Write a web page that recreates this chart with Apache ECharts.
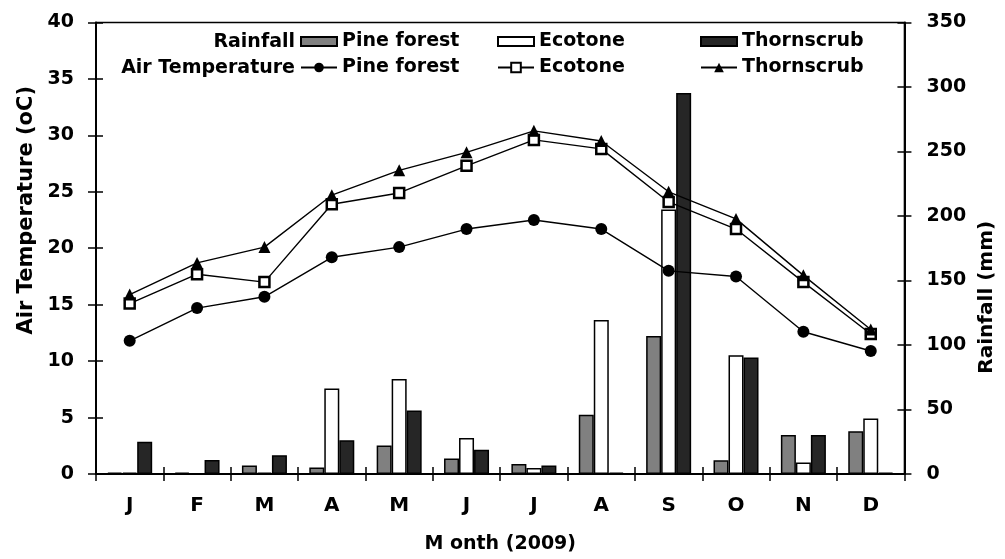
<!DOCTYPE html>
<html><head><meta charset="utf-8">
<script src="https://cdn.jsdelivr.net/npm/echarts@6/dist/echarts.min.js"></script>
<style>html,body{margin:0;padding:0;background:#fff}#c{width:1005px;height:559px}</style>
</head><body><div id="c"></div>
<script>
const months = ['J','F','M','A','M','J','J','A','S','O','N','D'];
const rainPine  = [1, 1, 6.5, 5, 22, 12, 7.7, 46, 107, 10.6, 30.3, 33.1];
const rainEco   = [1, 0, 1, 66.3, 73.7, 28, 4.6, 119.4, 205, 92, 9, 43.1];
const rainThorn = [25, 10.8, 14.6, 26.2, 49.3, 18.8, 6.5, 1, 295.4, 90.4, 30.3, 1];
const tempPine  = [11.8, 14.7, 15.7, 19.2, 20.1, 21.7, 22.5, 21.7, 18.0, 17.5, 12.6, 10.9];
const tempEco   = [15.1, 17.7, 17.0, 23.9, 24.9, 27.3, 29.6, 28.8, 24.1, 21.7, 17.0, 12.4];
const tempThorn = [15.9, 18.7, 20.1, 24.7, 26.9, 28.5, 30.4, 29.5, 25.0, 22.6, 17.6, 12.8];

const FF = '"DejaVu Sans", sans-serif';
const txt = {fontFamily: FF, fontWeight: 'bold', fontSize: 19, color: '#000'};
const chart = echarts.init(document.getElementById('c'));

function leg(name, left, top, w, h, icon) {
  const l = {data: [{name: name, icon: icon}], left: left, top: top, orient: 'horizontal', padding: 0,
    itemWidth: w, itemHeight: h, itemGap: 0, textStyle: Object.assign({}, txt, {padding: [0,0,0,0]}),
    selectedMode: false};
  if (!icon) l.data = [name];
  return l;
}
const bw = 1.5;
const option = {
  animation: false,
  backgroundColor: '#fff',
  grid: {left: 96, right: 92, top: 22.5, bottom: 82.3, show: true, borderColor: '#000', borderWidth: 1.5, backgroundColor: 'transparent'},
  legend: [
    leg('Pine forest ', 300, 32, 36, 9, 'rect'),
    leg('Ecotone ', 497, 32, 36, 9, 'rect'),
    leg('Thornscrub ', 700, 32, 36, 9, 'rect'),
    leg('Pine forest', 300, 58, 36, 12),
    leg('Ecotone', 497, 58, 36, 12),
    leg('Thornscrub', 700, 58, 36, 12)
  ],
  graphic: [
    {type: 'text', x: 295, y: 42, style: {text: 'Rainfall', align: 'right', verticalAlign: 'middle', font: 'bold 19px ' + FF, fill: '#000'}},
    {type: 'text', x: 295, y: 68, style: {text: 'Air Temperature', align: 'right', verticalAlign: 'middle', font: 'bold 19px ' + FF, fill: '#000'}}
  ],
  xAxis: [
    {type: 'category', data: months, boundaryGap: true,
     axisLine: {lineStyle: {color: '#000', width: 2}},
     axisTick: {show: true, inside: false, length: 7, lineStyle: {color: '#000', width: 1.5}},
     axisLabel: Object.assign({}, txt, {fontSize: 20, margin: 22}),
     name: 'M onth (2009)', nameLocation: 'middle', nameGap: 61, nameTextStyle: txt},
    {type: 'category', data: months, boundaryGap: true, position: 'bottom',
     axisLine: {show: false}, axisLabel: {show: false},
     axisTick: {show: true, inside: true, length: 7, lineStyle: {color: '#000', width: 1.5}}}
  ],
  yAxis: [
    {type: 'value', min: 0, max: 40, interval: 5, position: 'left',
     axisLine: {show: true, lineStyle: {color: '#000', width: 2}},
     axisTick: {show: true, length: 8, lineStyle: {color: '#000', width: 1.5}},
     axisLabel: Object.assign({}, txt, {margin: 22}), splitLine: {show: false},
     name: 'Air Temperature (oC)', nameLocation: 'middle', nameRotate: 90, nameGap: 58,
     nameTextStyle: Object.assign({}, txt, {fontSize: 21, padding: [0, 0, 0, 76]})},
    {type: 'value', min: 0, max: 350, interval: 50, position: 'right',
     axisLine: {show: true, lineStyle: {color: '#000', width: 2}},
     axisTick: {show: true, length: 7, lineStyle: {color: '#000', width: 1.5}},
     axisLabel: Object.assign({}, txt, {margin: 22}), splitLine: {show: false},
     name: 'Rainfall (mm)', nameLocation: 'middle', nameRotate: 90, nameGap: 70,
     nameTextStyle: Object.assign({}, txt, {fontSize: 20, padding: [0, 98, 0, 0]})},
    {type: 'value', min: 0, max: 40, interval: 5, position: 'left',
     axisLine: {show: false}, axisLabel: {show: false}, splitLine: {show: false},
     axisTick: {show: true, inside: true, length: 7, lineStyle: {color: '#000', width: 1.5}}},
    {type: 'value', min: 0, max: 350, interval: 50, position: 'right',
     axisLine: {show: false}, axisLabel: {show: false}, splitLine: {show: false},
     axisTick: {show: true, inside: true, length: 7, lineStyle: {color: '#000', width: 1.5}}}
  ],
  series: [
    {name: 'Pine forest ', type: 'bar', yAxisIndex: 1, data: rainPine, barWidth: 15, barGap: '0%',
     itemStyle: {color: '#808080', borderColor: '#000', borderWidth: bw}, z: 2},
    {name: 'Ecotone ', type: 'bar', yAxisIndex: 1, data: rainEco, barWidth: 15, barGap: '0%',
     itemStyle: {color: '#ffffff', borderColor: '#000', borderWidth: bw}, z: 2},
    {name: 'Thornscrub ', type: 'bar', yAxisIndex: 1, data: rainThorn, barWidth: 15, barGap: '0%',
     itemStyle: {color: '#262626', borderColor: '#000', borderWidth: bw}, z: 2},
    {name: 'Pine forest', type: 'line', yAxisIndex: 0, data: tempPine, symbol: 'circle', symbolSize: 12,
     lineStyle: {color: '#000', width: 1.4}, itemStyle: {color: '#000', borderColor: '#000', borderWidth: 0}, z: 5},
    {name: 'Ecotone', type: 'line', yAxisIndex: 0, data: tempEco, symbol: 'rect', symbolSize: 10,
     lineStyle: {color: '#000', width: 1.4}, itemStyle: {color: '#fff', borderColor: '#000', borderWidth: 2.5}, z: 6},
    {name: 'Thornscrub', type: 'line', yAxisIndex: 0, data: tempThorn, symbol: 'triangle', symbolSize: 12,
     lineStyle: {color: '#000', width: 1.4}, itemStyle: {color: '#000', borderColor: '#000', borderWidth: 0}, z: 7}
  ]
};
chart.setOption(option);
</script></body></html>
